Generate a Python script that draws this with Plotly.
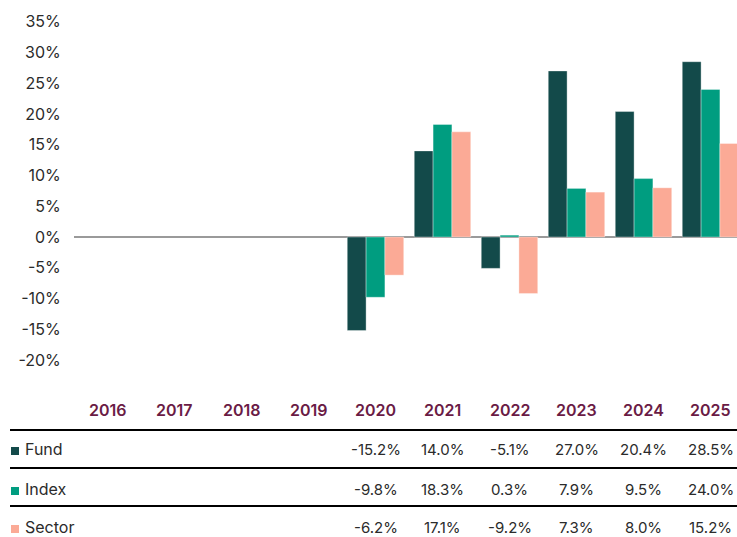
import plotly.graph_objects as go

years = ["2016", "2017", "2018", "2019", "2020", "2021", "2022", "2023", "2024", "2025"]
fund = [None, None, None, None, -15.2, 14.0, -5.1, 27.0, 20.4, 28.5]
index = [None, None, None, None, -9.8, 18.3, 0.3, 7.9, 9.5, 24.0]
sector = [None, None, None, None, -6.2, 17.1, -9.2, 7.3, 8.0, 15.2]
series_names = ["Fund", "Index", "Sector"]
series_values = [fund, index, sector]
series_colors = ["#134a4a", "#009d80", "#fbaa96"]
y_ticks = [-20, -15, -10, -5, 0, 5, 10, 15, 20, 25, 30, 35]

W, H = 737, 537
ML, MR, MT, MB = 74, 0, 5, 162
plot_top, plot_bottom = MT, H - MB
px_per_pct = 6.15
zero_px = 237
y_top = (zero_px - plot_top) / px_per_pct
y_bot = -(plot_bottom - zero_px) / px_per_pct
plot_w = W - ML - MR
cat_w = 67


def py(p):
    return (plot_bottom - p) / (plot_bottom - plot_top)


def pxp(p):
    return (p - ML) / plot_w


FONT = "Inter, Lato, sans-serif"
TEXT = "#2b2b2b"

fig = go.Figure()
for name, vals, col in zip(series_names, series_values, series_colors):
    fig.add_trace(go.Bar(
        x=years, y=vals, name=name,
        marker=dict(color=col, line=dict(color="rgba(255,255,255,0.35)", width=1)),
        hoverinfo="x+y+name",
    ))

annotations = []
shapes = []
# header years (x given as category index)
for i, yr in enumerate(years):
    annotations.append(dict(x=i, xref="x", y=py(410), yref="paper", text=yr,
                            showarrow=False, xanchor="center", yanchor="middle",
                            font=dict(family=FONT, size=16, color="#6a1b45", weight=600)))
row_y = [449, 489, 527]
line_y = [430, 468, 506]
for ly in line_y:
    shapes.append(dict(type="line", xref="paper", yref="paper",
                       x0=pxp(10), x1=pxp(W), y0=py(ly), y1=py(ly),
                       line=dict(color="#000000", width=2)))
for name, vals, col, ry in zip(series_names, series_values, series_colors, row_y):
    shapes.append(dict(type="rect", xref="paper", yref="paper",
                       x0=pxp(11), x1=pxp(19), y0=py(ry + 6), y1=py(ry - 2),
                       fillcolor=col, line=dict(width=0)))
    annotations.append(dict(x=pxp(23), xref="paper", y=py(ry), yref="paper", text=name,
                            showarrow=False, xanchor="left", yanchor="middle",
                            font=dict(family=FONT, size=16, color=TEXT)))
    for i, v in enumerate(vals):
        if v is None:
            continue
        annotations.append(dict(x=i, xref="x", y=py(ry), yref="paper", text=f"{v:.1f}%",
                                showarrow=False, xanchor="center", yanchor="middle",
                                font=dict(family=FONT, size=15, color=TEXT)))

fig.update_layout(
    width=W, height=H,
    margin=dict(l=ML, r=MR, t=MT, b=MB),
    paper_bgcolor="white", plot_bgcolor="white",
    barmode="group", bargap=0.157, bargroupgap=0,
    showlegend=False,
    annotations=annotations, shapes=shapes,
    xaxis=dict(type="category", range=[-0.5, -0.5 + plot_w / cat_w],
               showticklabels=False, showgrid=False, zeroline=False, showline=False,
               fixedrange=True),
    yaxis=dict(range=[y_bot, y_top], tickvals=y_ticks,
               ticktext=[f"{t}%" for t in y_ticks],
               showgrid=False, zeroline=True, zerolinecolor="#9a9a9a", zerolinewidth=2,
               showline=False, ticks="outside", ticklen=9, tickcolor="rgba(0,0,0,0)",
               tickfont=dict(family=FONT, size=16, color=TEXT), fixedrange=True),
)

fig.write_html("out.html", config={"displayModeBar": False},
               post_script="document.body.style.margin='0';")
